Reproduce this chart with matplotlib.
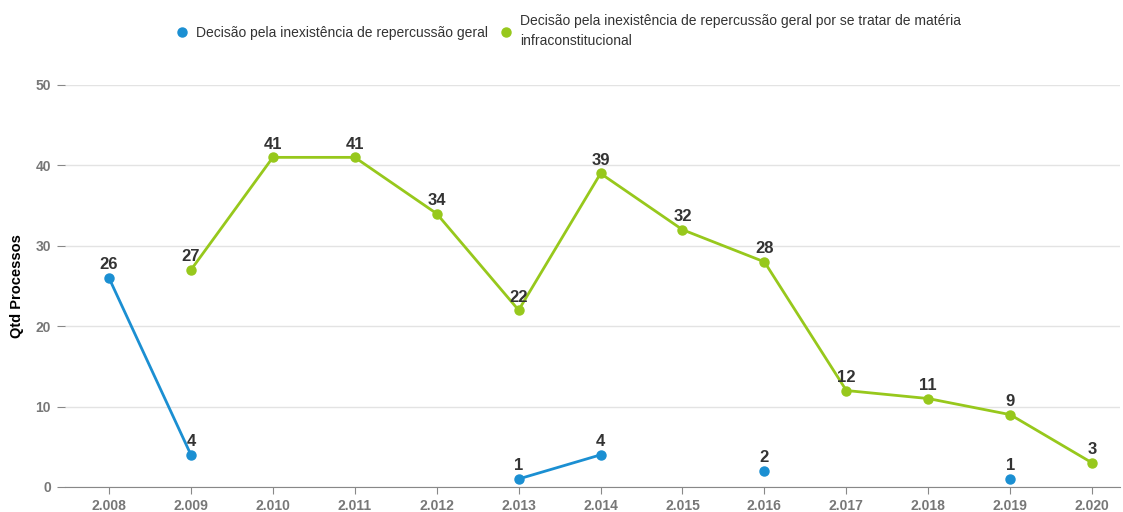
import numpy as np
import matplotlib.pyplot as plt

plt.rcParams['font.family'] = ['Liberation Sans', 'DejaVu Sans']

# dados
anos = ['2.008', '2.009', '2.010', '2.011', '2.012', '2.013', '2.014',
        '2.015', '2.016', '2.017', '2.018', '2.019', '2.020']
inexistencia = [26, 4, None, None, None, 1, 4, None, 2, None, None, 1, None]
infraconst = [None, 27, 41, 41, 34, 22, 39, 32, 28, 12, 11, 9, 3]

rotulos = ['Decisão pela inexistência de repercussão geral',
           'Decisão pela inexistência de repercussão geral por se tratar de matéria\ninfraconstitucional']
cores = ['#1b8fd2', '#97c81c']

fig = plt.figure(figsize=(11.23, 5.12), dpi=100)
ax = fig.add_axes([65 / 1123, 25 / 512, 1055 / 1123, 402 / 512])

x = np.arange(len(anos))
for serie, cor, rot in zip([inexistencia, infraconst], cores, rotulos):
    y = np.array([np.nan if v is None else v for v in serie], dtype=float)
    ax.plot(x, y, color=cor, lw=2, marker='o', ms=6.5, label=rot, zorder=3)
    for xi, yi in zip(x, y):
        if not np.isnan(yi):
            ax.annotate(f'{int(yi)}', (xi, yi), xytext=(0, 4), textcoords='offset points',
                        ha='center', va='bottom', fontsize=12, fontweight='bold',
                        color='#333333', zorder=4)

ax.set_xlim(-0.537, 12.34)
ax.set_ylim(0, 50)
ax.set_yticks([0, 10, 20, 30, 40, 50])
ax.set_xticks(x)
ax.set_xticklabels(anos)
ax.grid(axis='y', color='#e3e3e3', lw=1)
ax.set_axisbelow(True)
for s in ['top', 'right', 'left']:
    ax.spines[s].set_visible(False)
ax.spines['bottom'].set_color('#888888')
ax.tick_params(axis='y', length=6, color='#888888', labelcolor='#777777', pad=4)
ax.tick_params(axis='x', length=5, color='#888888', labelcolor='#777777', pad=4)
for lbl in ax.get_xticklabels() + ax.get_yticklabels():
    lbl.set_fontweight('bold')
    lbl.set_fontsize(10)
ax.set_ylabel('Qtd Processos', fontsize=10.5, fontweight='bold', labelpad=8)

leg = fig.legend(loc='upper center', bbox_to_anchor=(0.506, 0.997), ncol=2, frameon=False,
                 fontsize=10, handlelength=1, handletextpad=0.5, columnspacing=0.8)
for h in leg.legend_handles:
    h.set_linestyle('none')
for t in leg.get_texts():
    t.set_color('#333333')
    t.set_linespacing(1.55)

fig.savefig('out.png', dpi=100)
